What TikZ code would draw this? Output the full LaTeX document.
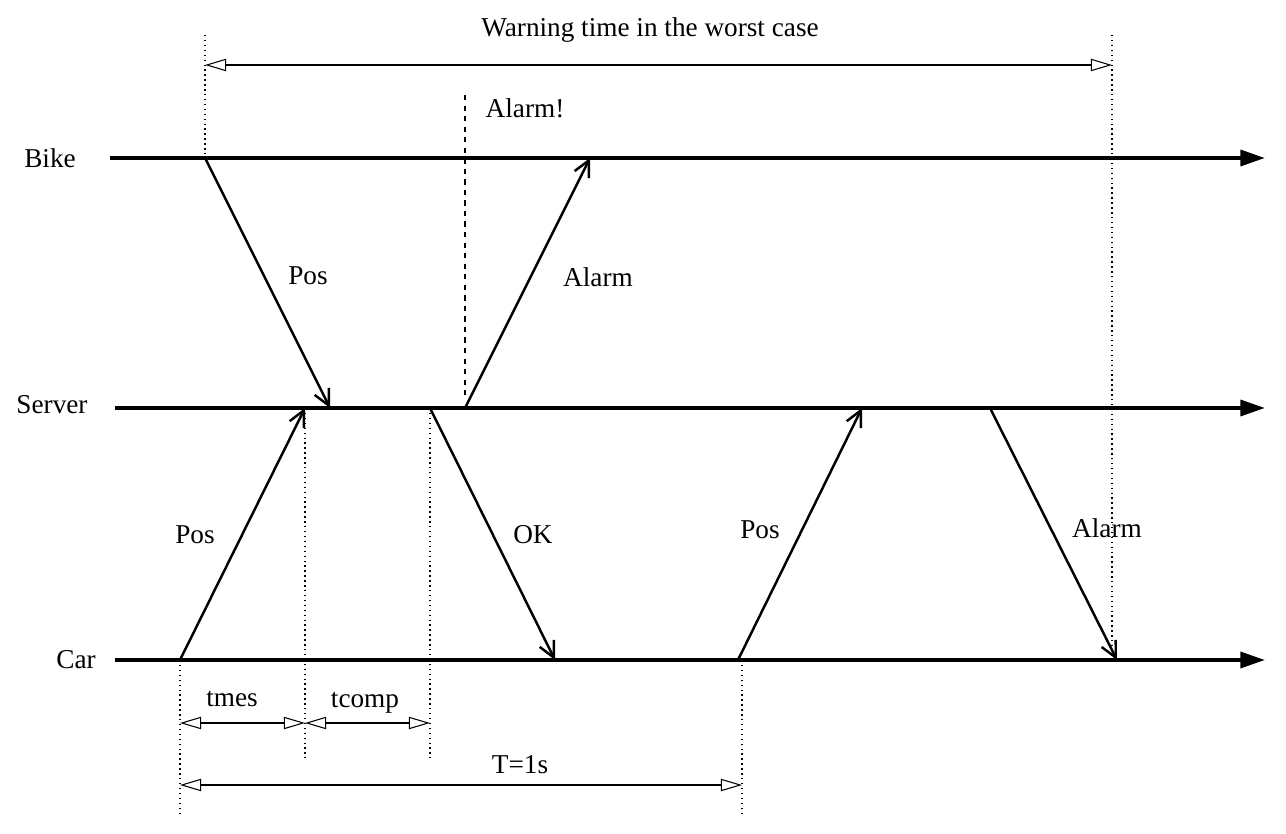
\documentclass[tikz,border=0pt]{standalone}
\usepackage{fontspec}
\setmainfont{Liberation Serif}
\usetikzlibrary{arrows.meta}
\tikzset{
  time/.style={line width=2.2pt, -{Triangle[length=14pt,width=9pt]}},
  msg/.style={line width=1.4pt, -{Straight Barb[length=9pt,width=9pt]}},
  tick/.style={dotted, line width=0.8pt},
  dim/.style={line width=0.6pt, {Triangle[open,length=12pt,width=7pt]}-{Triangle[open,length=12pt,width=7pt]}},
  lbl/.style={font=\fontsize{15.5}{18}\selectfont, inner sep=0pt}
}
\begin{document}
\begin{tikzpicture}[x=0.02cm, y=-0.02cm]
	\useasboundingbox (0, 0) rectangle (1286, 834);
	% time lines
	\node[lbl] (bike) at (50, 158) {Bike};
	\node[lbl] (server) at (52, 405) {Server};
	\node[lbl] (car) at (76, 660) {Car};
	\coordinate (b0) at (110, 158); \coordinate (b1) at (1265, 158);
	\coordinate (s0) at (115, 408); \coordinate (s1) at (1265, 408);
	\coordinate (c0) at (115, 660); \coordinate (c1) at (1265, 660);
	\draw[time] (b0) -- (b1);
	\draw[time] (s0) -- (s1);
	\draw[time] (c0) -- (c1);
	% messages
	\coordinate (m1a) at (205, 158); \coordinate (m1b) at (330, 408);
	\coordinate (m2a) at (180, 660); \coordinate (m2b) at (305, 408);
	\coordinate (m3a) at (465, 408); \coordinate (m3b) at (590, 158);
	\coordinate (m4a) at (430, 408); \coordinate (m4b) at (555, 660);
	\coordinate (m5a) at (738, 660); \coordinate (m5b) at (862, 408);
	\coordinate (m6a) at (990, 408); \coordinate (m6b) at (1117, 660);
	\draw[msg] (m1a) -- (m1b);
	\draw[msg] (m2a) -- (m2b);
	\draw[msg] (m3a) -- (m3b);
	\draw[msg] (m4a) -- (m4b);
	\draw[msg] (m5a) -- (m5b);
	\draw[msg] (m6a) -- (m6b);
	\node[lbl] (pos1) at (308, 276) {Pos};
	\node[lbl] (pos2) at (195, 535) {Pos};
	\node[lbl] (alarm1) at (598, 277) {Alarm};
	\node[lbl] (ok) at (533, 535) {OK};
	\node[lbl] (pos3) at (760, 530) {Pos};
	\node[lbl] (alarm2) at (1107, 528) {Alarm};
	% marks
	\coordinate (d1a) at (205, 35);  \coordinate (d1b) at (205, 158);
	\coordinate (d2a) at (1112, 35); \coordinate (d2b) at (1112, 660);
	\coordinate (d3a) at (180, 660); \coordinate (d3b) at (180, 815);
	\coordinate (d4a) at (305, 408); \coordinate (d4b) at (305, 758);
	\coordinate (d5a) at (430, 408); \coordinate (d5b) at (430, 758);
	\coordinate (d6a) at (742, 660); \coordinate (d6b) at (742, 815);
	\draw[tick] (d1a) -- (d1b);
	\draw[tick] (d2a) -- (d2b);
	\draw[tick] (d3a) -- (d3b);
	\draw[tick] (d4a) -- (d4b);
	\draw[tick] (d5a) -- (d5b);
	\draw[tick] (d6a) -- (d6b);
	\coordinate (al0) at (465, 95); \coordinate (al1) at (465, 400);
	\draw[dashed, line width=0.8pt] (al0) -- (al1);
	\node[lbl] (alarmx) at (525, 108) {Alarm!};
	% durations
	\coordinate (w0) at (205, 65);  \coordinate (w1) at (1112, 65);
	\coordinate (t0) at (180, 723); \coordinate (t1) at (305, 723); \coordinate (t2) at (430, 723);
	\coordinate (p0) at (180, 785); \coordinate (p1) at (742, 785);
	\draw[dim] (w0) -- (w1);
	\draw[dim] (t0) -- (t1);
	\draw[dim] (t1) -- (t2);
	\draw[dim] (p0) -- (p1);
	\node[lbl] (warn) at (650, 30) {Warning time in the worst case};
	\node[lbl] (tmes) at (232, 699) {tmes};
	\node[lbl] (tcomp) at (365, 703) {tcomp};
	\node[lbl] (period) at (520, 765) {T=1s};
\end{tikzpicture}
\end{document}
